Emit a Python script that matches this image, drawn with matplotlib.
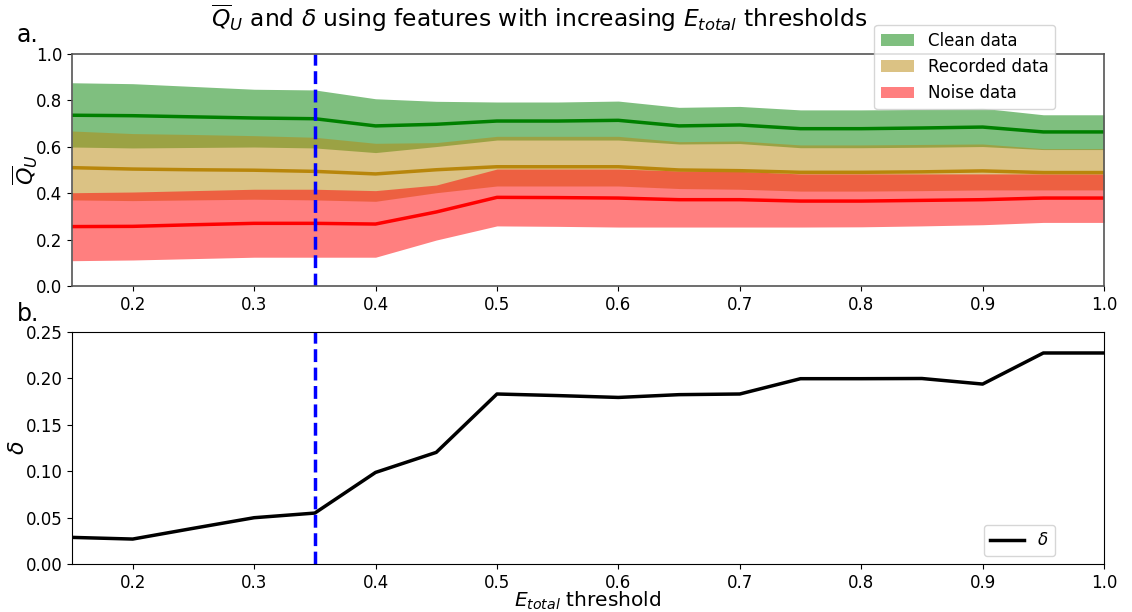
import matplotlib
matplotlib.use("Agg")
import matplotlib.pyplot as plt

# пороги E_total
thresholds = [0.15, 0.2, 0.25, 0.3, 0.35, 0.4, 0.45, 0.5, 0.55, 0.6,
              0.65, 0.7, 0.75, 0.8, 0.85, 0.9, 0.95, 1.0]

# Clean data
clean_mean = [0.736, 0.734, 0.729, 0.724, 0.721, 0.690, 0.697, 0.711, 0.711, 0.714,
              0.690, 0.694, 0.678, 0.678, 0.681, 0.685, 0.664, 0.664]
clean_upper = [0.876, 0.872, 0.860, 0.848, 0.845, 0.807, 0.796, 0.793, 0.793, 0.797,
               0.770, 0.774, 0.759, 0.759, 0.761, 0.766, 0.738, 0.738]
clean_lower = [0.599, 0.595, 0.597, 0.599, 0.595, 0.575, 0.601, 0.629, 0.629, 0.629,
               0.612, 0.614, 0.596, 0.596, 0.598, 0.601, 0.588, 0.588]

# Recorded data
rec_mean = [0.510, 0.504, 0.501, 0.499, 0.494, 0.483, 0.501, 0.514, 0.514, 0.514,
            0.500, 0.497, 0.490, 0.490, 0.492, 0.496, 0.489, 0.489]
rec_upper = [0.668, 0.657, 0.653, 0.648, 0.641, 0.615, 0.618, 0.645, 0.645, 0.645,
             0.622, 0.625, 0.608, 0.608, 0.610, 0.612, 0.592, 0.592]
rec_lower = [0.371, 0.368, 0.371, 0.374, 0.371, 0.365, 0.402, 0.431, 0.431, 0.431,
             0.420, 0.417, 0.409, 0.409, 0.411, 0.414, 0.414, 0.414]

# Noise data
noise_mean = [0.256, 0.257, 0.264, 0.270, 0.270, 0.267, 0.319, 0.382, 0.381, 0.379,
              0.372, 0.372, 0.366, 0.366, 0.369, 0.372, 0.379, 0.379]
noise_upper = [0.402, 0.405, 0.411, 0.417, 0.417, 0.411, 0.435, 0.504, 0.504, 0.504,
               0.496, 0.494, 0.483, 0.483, 0.483, 0.483, 0.483, 0.483]
noise_lower = [0.109, 0.112, 0.118, 0.124, 0.124, 0.124, 0.198, 0.259, 0.257, 0.254,
               0.254, 0.254, 0.254, 0.255, 0.259, 0.264, 0.274, 0.274]

# delta
delta = [0.0287, 0.0269, 0.0385, 0.0499, 0.0549, 0.0987, 0.1203, 0.1832, 0.1815, 0.1795,
         0.1825, 0.1832, 0.1997, 0.1997, 0.1999, 0.1939, 0.2274, 0.2274]

best_threshold = 0.35

fig = plt.figure(figsize=(11.32, 6.12), dpi=100)
ax1 = fig.add_axes([0.0636, 0.5327, 0.9117, 0.3791])
ax2 = fig.add_axes([0.0636, 0.0784, 0.9117, 0.3791])

# верхний график
ax1.fill_between(thresholds, clean_lower, clean_upper, color='green', alpha=0.5,
                 linewidth=0, label='Clean data')
ax1.fill_between(thresholds, rec_lower, rec_upper, color='darkgoldenrod', alpha=0.5,
                 linewidth=0, label='Recorded data')
ax1.fill_between(thresholds, noise_lower, noise_upper, color='red', alpha=0.5,
                 linewidth=0, label='Noise data')
ax1.plot(thresholds, clean_mean, color='green', linewidth=2.5)
ax1.plot(thresholds, rec_mean, color='darkgoldenrod', linewidth=2.5)
ax1.plot(thresholds, noise_mean, color='red', linewidth=2.5)
ax1.axvline(best_threshold, color='blue', linestyle='--', linewidth=2.5)
ax1.set_xlim(0.15, 1.0)
ax1.set_ylim(0, 1.0)
ax1.set_ylabel(r'$\overline{Q}_U$', fontsize=16)
ax1.yaxis.set_label_coords(-0.031, 0.5)
ax1.tick_params(labelsize=12)
for s in ax1.spines.values():
    s.set_color('#555555')
    s.set_linewidth(1.2)
ax1.legend(loc='upper right', bbox_to_anchor=(1055 / 1132, 1 - 25 / 612),
           bbox_transform=fig.transFigure, borderaxespad=0, fontsize=12)

# нижний график
ax2.plot(thresholds, delta, color='black', linewidth=2.5, label=r'$\delta$')
ax2.axvline(best_threshold, color='blue', linestyle='--', linewidth=2.5)
ax2.set_xlim(0.15, 1.0)
ax2.set_ylim(0, 0.25)
ax2.set_ylabel(r'$\delta$', fontsize=16)
ax2.yaxis.set_label_coords(-0.043, 0.5)
ax2.set_xlabel(r'$E_{total}$ threshold', fontsize=14.5, va='baseline')
ax2.xaxis.set_label_coords(0.5, -(607 - 564) / 232)
ax2.tick_params(labelsize=12)
ax2.legend(loc='lower right', bbox_to_anchor=(1055 / 1132, 1 - 556 / 612),
           bbox_transform=fig.transFigure, borderaxespad=0, fontsize=12)

fig.text(0.4766, 1 - 27 / 612,
         r'$\overline{Q}_U$ and $\delta$ using features with increasing $E_{total}$ thresholds',
         ha='center', va='baseline', fontsize=16.8)
fig.text(0.015, 1 - 42 / 612, 'a.', fontsize=17, va='baseline')
fig.text(0.015, 1 - 321 / 612, 'b.', fontsize=17, va='baseline')

plt.savefig('out.png', dpi=100)
